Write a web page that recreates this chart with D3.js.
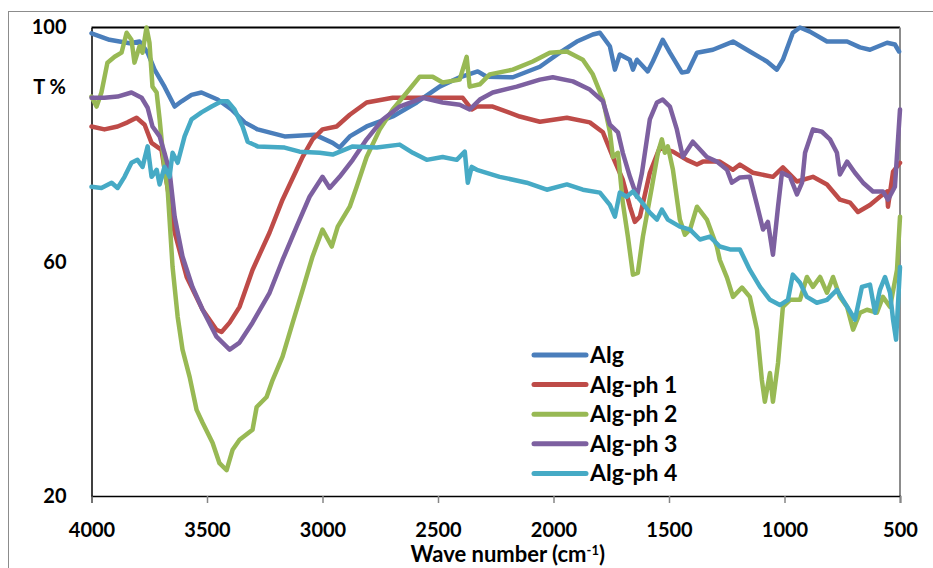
<!DOCTYPE html>
<html>
<head>
<meta charset="utf-8">
<script src="https://cdn.jsdelivr.net/npm/d3@7"></script>
<style>
  body { margin: 0; background: #fff; }
  text { font-family: Lato, "Open Sans", sans-serif; font-weight: bold; fill: #000; }
</style>
</head>
<body>
<div id="chart"></div>
<script>
// FTIR spectra, [wave number cm-1, T %]
const alg = [
  [4000,99.0],[3922,97.9],[3835,97.3],[3792,97.6],[3757,95.7],[3727,92.8],[3684,89.9],[3640,86.5],
  [3610,87.4],[3567,88.5],[3524,88.9],[3454,87.7],[3394,86.0],[3337,83.8],[3281,82.6],[3164,81.4],
  [3034,81.7],[2956,80.3],[2926,79.5],[2882,81.4],[2809,83.1],[2696,84.8],[2592,87.2],[2493,89.9],
  [2406,91.5],[2328,92.5],[2289,91.6],[2176,91.5],[2059,93.3],[1973,95.7],[1899,97.6],[1830,98.8],
  [1799,99.1],[1756,96.8],[1734,92.8],[1713,95.4],[1670,94.5],[1656,92.8],[1639,94.5],[1592,92.5],
  [1570,94.2],[1527,97.9],[1496,95.7],[1444,92.3],[1418,92.5],[1379,95.7],[1310,96.2],[1223,97.6],
  [1150,95.9],[1076,94.2],[1033,92.8],[1007,94.5],[964,99.1],[933,100],[890,99.3],[816,97.6],
  [729,97.6],[673,96.6],[630,96.2],[556,97.4],[522,97.1],[504,95.9]
];
const algPh1 = [
  [4000,83.1],[3944,82.6],[3887,83.1],[3844,83.8],[3805,84.6],[3770,83.4],[3740,80.3],[3697,79.1],
  [3640,65.0],[3588,57.4],[3519,51.8],[3459,48.4],[3437,48.0],[3402,49.6],[3359,52.3],[3303,58.6],
  [3229,65.0],[3173,70.6],[3112,75.7],[3086,77.9],[3043,80.9],[3000,82.6],[2939,83.1],[2882,85.1],
  [2809,87.2],[2696,88.0],[2592,88.0],[2493,88.0],[2393,88.0],[2354,86.0],[2332,86.5],[2263,86.5],
  [2146,84.8],[2059,83.9],[1942,84.6],[1843,83.8],[1786,82.1],[1743,77.9],[1700,74.0],[1669,69.4],
  [1648,66.8],[1626,67.7],[1583,75.2],[1540,79.5],[1483,78.8],[1423,77.4],[1379,76.6],[1353,77.1],
  [1280,77.1],[1223,75.7],[1193,76.6],[1137,75.2],[1050,74.5],[1007,76.1],[946,73.7],[877,74.5],
  [816,73.2],[760,70.6],[716,70.1],[682,68.5],[630,69.7],[587,71.1],[556,72.0],[552,69.4],
  [530,75.4],[500,76.9]
];
const algPh2 = [
  [4000,88.2],[3978,86.5],[3957,88.9],[3931,94.0],[3900,95.0],[3870,95.7],[3848,99.1],[3827,97.9],
  [3814,94.0],[3792,96.8],[3779,95.7],[3762,100],[3749,97.4],[3736,89.9],[3718,88.9],[3705,84.3],
  [3684,75.7],[3671,72.8],[3649,59.1],[3627,50.6],[3606,45.0],[3575,40.3],[3545,34.7],[3519,32.5],
  [3476,29.1],[3446,25.6],[3415,24.4],[3389,27.9],[3359,29.6],[3303,31.3],[3285,35.2],[3242,36.9],
  [3216,39.8],[3173,43.8],[3129,49.6],[3086,55.2],[3043,60.9],[3000,65.5],[2960,62.6],[2934,66.0],
  [2882,69.4],[2852,72.8],[2809,77.9],[2752,82.6],[2696,86.0],[2635,88.9],[2579,91.6],[2523,91.6],
  [2480,90.6],[2406,91.1],[2376,95.0],[2363,89.9],[2319,90.3],[2276,92.0],[2176,92.8],[2090,94.2],
  [2016,95.7],[1942,95.9],[1873,94.5],[1830,92.0],[1786,87.7],[1756,82.2],[1743,77.9],[1721,78.6],
  [1700,70.1],[1678,64.3],[1656,57.8],[1635,58.1],[1613,64.3],[1574,72.8],[1548,78.6],[1531,80.9],
  [1518,78.6],[1505,79.7],[1483,75.7],[1453,67.2],[1431,64.6],[1409,65.5],[1379,69.4],[1336,67.2],
  [1293,62.6],[1280,60.3],[1249,57.3],[1223,54.0],[1184,55.6],[1150,54.0],[1119,48.4],[1098,39.8],
  [1085,36.1],[1063,41.0],[1050,36.1],[1028,42.7],[1007,52.3],[976,53.5],[933,53.5],[903,57.4],
  [877,55.7],[846,57.4],[816,54.7],[790,57.4],[760,54.0],[729,52.3],[703,48.4],[673,51.3],
  [643,51.8],[600,51.3],[574,54.0],[543,52.3],[513,58.6],[500,67.7]
];
const algPh3 = [
  [4000,88.0],[3944,88.0],[3887,88.2],[3827,88.9],[3783,88.0],[3757,86.3],[3736,83.1],[3705,81.4],
  [3684,78.6],[3662,75.4],[3640,67.7],[3606,60.9],[3563,55.7],[3519,51.8],[3459,47.2],[3402,45.0],
  [3359,46.2],[3303,49.6],[3229,54.7],[3173,60.3],[3112,66.0],[3056,71.1],[3000,74.5],[2969,72.6],
  [2926,74.5],[2869,77.4],[2809,80.9],[2739,84.3],[2666,86.5],[2566,88.0],[2480,87.2],[2406,86.8],
  [2363,86.0],[2319,87.7],[2263,88.9],[2159,89.9],[2059,91.1],[2003,91.5],[1916,90.8],[1843,89.4],
  [1786,87.4],[1756,83.4],[1721,82.1],[1700,78.6],[1669,74.5],[1639,71.1],[1617,75.2],[1583,84.3],
  [1552,87.2],[1527,87.7],[1496,86.5],[1466,82.6],[1440,77.9],[1397,80.5],[1336,77.9],[1293,77.1],
  [1249,75.7],[1228,73.5],[1193,74.4],[1150,74.5],[1119,69.7],[1093,65.5],[1072,66.8],[1050,61.2],
  [1028,69.4],[1011,75.2],[976,74.5],[946,71.5],[924,73.5],[911,78.6],[877,82.6],[838,82.2],
  [803,80.9],[773,78.6],[760,74.9],[729,77.1],[695,75.2],[660,73.5],[617,72.0],[574,72.0],
  [552,70.6],[522,72.8],[500,86.0]
];
const algPh4 = [
  [4000,72.8],[3957,72.6],[3913,73.5],[3887,72.6],[3857,74.5],[3827,76.9],[3801,77.4],[3779,76.2],
  [3757,79.7],[3740,74.5],[3718,75.7],[3705,73.2],[3684,76.2],[3662,74.5],[3649,78.6],[3627,76.9],
  [3597,81.4],[3567,84.3],[3524,85.5],[3480,86.5],[3437,87.4],[3411,87.4],[3381,86.0],[3346,83.1],
  [3324,80.5],[3281,79.7],[3164,79.5],[3099,78.8],[3012,78.6],[2956,78.3],[2869,79.7],[2765,79.5],
  [2666,80.0],[2609,78.6],[2549,77.4],[2480,77.9],[2419,77.4],[2384,78.8],[2371,73.5],[2354,76.2],
  [2332,75.7],[2233,74.5],[2116,73.5],[2029,72.3],[1942,73.2],[1873,72.3],[1799,71.8],[1756,69.7],
  [1734,67.7],[1713,71.8],[1683,71.1],[1656,72.0],[1626,70.6],[1583,68.4],[1552,67.2],[1531,68.9],
  [1505,67.2],[1453,66.0],[1409,65.5],[1366,63.8],[1323,64.3],[1280,62.6],[1236,62.1],[1193,62.1],
  [1150,58.6],[1106,55.7],[1063,53.5],[1020,52.6],[985,53.5],[964,57.8],[933,56.4],[903,54.0],
  [860,53.0],[816,53.5],[773,55.2],[747,53.5],[716,51.5],[695,50.1],[665,55.7],[630,56.1],
  [608,51.3],[587,55.2],[565,57.4],[543,54.7],[530,50.1],[517,46.7],[500,59.1]
];

const seriesNames = ["Alg", "Alg-ph 1", "Alg-ph 2", "Alg-ph 3", "Alg-ph 4"];
const seriesData = [alg, algPh1, algPh2, algPh3, algPh4];
const colors = ["#4A7EBB", "#BE4B48", "#98B954", "#7D60A0", "#46AAC5"];
const xTicks = [4000, 3500, 3000, 2500, 2000, 1500, 1000, 500];
const yTicks = [20, 60, 100];

const width = 933, height = 568;
const plotLeft = 91.5, plotRight = 900, plotTop = 27.5, plotBottom = 496;

const svg = d3.select("#chart").append("svg").attr("width", width).attr("height", height);

// outer chart frame
svg.append("rect").attr("x", 8.5).attr("y", 11.5).attr("width", 1000).attr("height", 600)
  .attr("fill", "none").attr("stroke", "#8c8c8c").attr("stroke-width", 1);

const x = d3.scaleLinear().domain([4000, 500]).range([plotLeft, plotRight]);
const y = d3.scaleLinear().domain([20, 100]).range([plotBottom, plotTop]);

// plot frame
svg.append("line").attr("x1", plotLeft).attr("x2", plotRight).attr("y1", plotTop).attr("y2", plotTop)
  .attr("stroke", "#000").attr("stroke-width", 2);
svg.append("line").attr("x1", plotRight).attr("x2", plotRight).attr("y1", plotTop).attr("y2", plotBottom)
  .attr("stroke", "#8c8c8c").attr("stroke-width", 2);

// x axis
const xAxis = svg.append("g").attr("transform", `translate(0,${plotBottom})`)
  .call(d3.axisBottom(x).tickValues(xTicks).tickFormat(d3.format("d")).tickSize(7).tickPadding(20));
xAxis.select(".domain").attr("stroke", "#000").attr("stroke-width", 1.5);
xAxis.selectAll(".tick line").attr("stroke", "#868686").attr("stroke-width", 1.5);
xAxis.selectAll(".tick text").attr("font-size", 20).attr("font-family", "Lato").attr("font-weight", "bold").attr("fill", "#000");

// y axis
const yAxis = svg.append("g").attr("transform", `translate(${plotLeft},0)`)
  .call(d3.axisLeft(y).tickValues(yTicks).tickSize(0).tickPadding(25));
yAxis.select(".domain").attr("stroke", "#000").attr("stroke-width", 1.5);
yAxis.selectAll(".tick text").attr("font-size", 20).attr("font-family", "Lato").attr("font-weight", "bold").attr("fill", "#000");

svg.append("text").attr("x", 66).attr("y", 94).attr("text-anchor", "end").attr("font-size", 20).text("T %");

const title = svg.append("text").attr("x", (plotLeft + plotRight) / 2 + 12).attr("y", 562).attr("text-anchor", "middle").attr("font-size", 22);
title.append("tspan").text("Wave number (cm");
title.append("tspan").attr("font-size", 13).attr("dy", -7).text("-1");
title.append("tspan").attr("dy", 7).text(")");

// spectra
const line = d3.line().x(d => x(d[0])).y(d => y(d[1]));
seriesData.forEach((data, i) => {
  svg.append("path").datum(data).attr("fill", "none").attr("stroke", colors[i]).attr("stroke-width", 4.5)
    .attr("stroke-linejoin", "round").attr("stroke-linecap", "round").attr("d", line);
});

// legend
const legend = svg.append("g");
seriesNames.forEach((name, i) => {
  const ly = 355 + i * 29.6;
  legend.append("line").attr("x1", 534).attr("x2", 586).attr("y1", ly).attr("y2", ly)
    .attr("stroke", colors[i]).attr("stroke-width", 5).attr("stroke-linecap", "round");
  legend.append("text").attr("x", 590).attr("y", ly + 8).attr("font-size", 23).text(name);
});
</script>
</body>
</html>
